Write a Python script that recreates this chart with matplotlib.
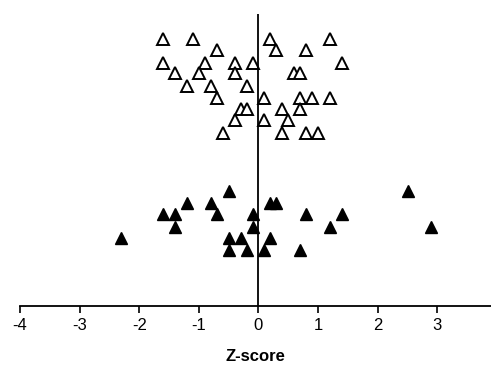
import matplotlib.pyplot as plt

plt.rcParams['font.family'] = ['Liberation Sans', 'DejaVu Sans']

# open triangles (upper group): z-scores and vertical jitter positions
open_z = [-1.6, -1.1, 0.2, 1.2,
          -0.7, 0.3, 0.8,
          -1.6, -0.9, -0.4, -0.1, 1.4,
          -1.4, -1.0, -0.4, 0.6, 0.7,
          -1.2, -0.8, -0.2,
          -0.7, 0.1, 0.7, 0.9, 1.2,
          -0.3, -0.2, 0.4, 0.7,
          -0.4, 0.1, 0.5,
          -0.6, 0.4, 0.8, 1.0]
open_y = [26.7, 26.7, 26.7, 26.7,
          25.6, 25.6, 25.6,
          24.3, 24.3, 24.3, 24.3, 24.3,
          23.3, 23.3, 23.3, 23.3, 23.3,
          22.0, 22.0, 22.0,
          20.8, 20.8, 20.8, 20.8, 20.8,
          19.7, 19.7, 19.7, 19.7,
          18.6, 18.6, 18.6,
          17.3, 17.3, 17.3, 17.3]

# filled triangles (lower group)
filled_z = [-0.5, 2.5,
            -1.2, -0.8, 0.2, 0.3,
            -1.6, -1.4, -0.7, -0.1, 0.8, 1.4,
            -1.4, -0.1, 1.2, 2.9,
            -2.3, -0.5, -0.3, 0.2,
            -0.5, -0.2, 0.1, 0.7]
filled_y = [11.5, 11.5,
            10.3, 10.3, 10.3, 10.3,
            9.2, 9.2, 9.2, 9.2, 9.2, 9.2,
            7.9, 7.9, 7.9, 7.9,
            6.8, 6.8, 6.8, 6.8,
            5.6, 5.6, 5.6, 5.6]

xticks = [-4, -3, -2, -1, 0, 1, 2, 3]

fig = plt.figure(figsize=(4.91, 3.66), dpi=100)
ax = fig.add_axes([20 / 491, 60 / 366, 471 / 491, 292 / 366])

ax.plot(open_z, open_y, linestyle='none', marker='^', markersize=8,
        markerfacecolor='white', markeredgecolor='black', markeredgewidth=1.4)
ax.plot(filled_z, filled_y, linestyle='none', marker='^', markersize=8,
        markerfacecolor='black', markeredgecolor='black')

ax.axvline(0, color='black', linewidth=1.3)

ax.set_xlim(-4, 3.9)
ax.set_ylim(0, 29.2)
ax.set_xticks(xticks)
ax.set_xticklabels([str(t) for t in xticks], fontsize=12)
ax.set_yticks([])
ax.tick_params(axis='x', direction='out', length=5, width=1.2, pad=4)

for s in ['top', 'right', 'left']:
    ax.spines[s].set_visible(False)
ax.spines['bottom'].set_linewidth(1.3)

ax.set_xlabel('Z-score', fontsize=12, fontweight='bold', labelpad=11)

fig.savefig('out.png', dpi=100)
